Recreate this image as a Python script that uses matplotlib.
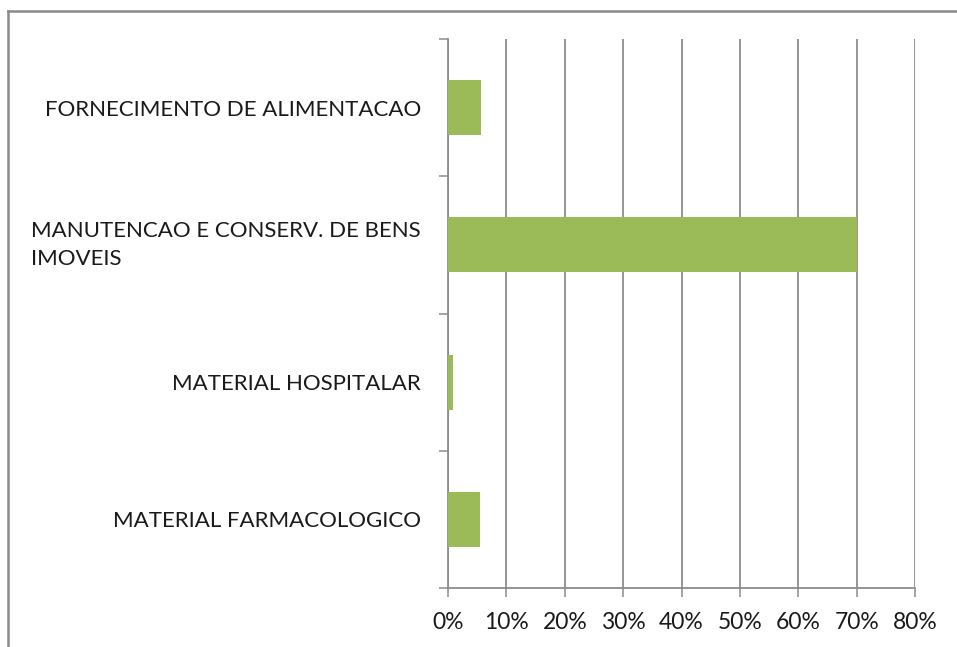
import matplotlib
matplotlib.use("Agg")
import matplotlib.pyplot as plt
import matplotlib.transforms as mtransforms
from matplotlib.lines import Line2D
from matplotlib.ticker import FixedLocator, NullFormatter

categories = [
    "FORNECIMENTO DE ALIMENTACAO",
    "MANUTENCAO E CONSERV. DE BENS\nIMOVEIS",
    "MATERIAL HOSPITALAR",
    "MATERIAL FARMACOLOGICO",
]
values = [5.6, 70.0, 0.9, 5.4]
x_ticks = [0, 10, 20, 30, 40, 50, 60, 70, 80]
x_labels = ["0%", "10%", "20%", "30%", "40%", "50%", "60%", "70%", "80%"]

plt.rcParams['font.family'] = ['Lato', 'DejaVu Sans']

W, H = 957, 647
fig = plt.figure(figsize=(W / 100, H / 100), dpi=100)
fig.patch.set_facecolor("white")

ax = fig.add_axes([448 / W, 59 / H, (915 - 448) / W, (588 - 39) / H])

n = len(categories)
ypos = list(range(n - 1, -1, -1))
ax.barh(ypos, values, height=0.4, color="#9BBB59", zorder=3)

ax.set_xlim(0, 80)
ax.set_ylim(-0.5, n - 0.5)

grid_c = "#8c8c8c"
txt_c = "#1a1a1a"
ax.set_xticks(x_ticks)
ax.set_xticklabels(x_labels, fontsize=16.5, color=txt_c)
ax.xaxis.grid(True, color=grid_c, linewidth=1.3, zorder=0)
ax.tick_params(axis="x", length=6.5, width=1.1, color=grid_c, pad=11)

ax.yaxis.set_major_locator(FixedLocator([i - 0.5 for i in range(n + 1)]))
ax.yaxis.set_major_formatter(NullFormatter())
ax.yaxis.set_minor_locator(FixedLocator(ypos))
labels = ax.set_yticklabels(categories, minor=True, fontsize=16, color=txt_c,
                            ha="right", multialignment="left", linespacing=1.5)
ax.tick_params(axis="y", which="major", length=6.5, width=1.1, color=grid_c)
ax.tick_params(axis="y", which="minor", length=0, pad=19.5)

# nudge multi-line label up slightly to centre it on its bar
for lab in labels:
    if "\n" in lab.get_text():
        lab.set_transform(lab.get_transform() +
                          mtransforms.ScaledTranslation(0, 6 / 100, fig.dpi_scale_trans))

for s in ["top", "right"]:
    ax.spines[s].set_visible(False)
for s in ["left", "bottom"]:
    ax.spines[s].set_color(grid_c)
    ax.spines[s].set_linewidth(1.3)

# outer chart border (top and left visible)
bx, by = 8 / W, 1 - 11 / H
fig.add_artist(Line2D([bx, 1.0], [by, by], transform=fig.transFigure,
                      color="#8a8a8a", linewidth=1.8))
fig.add_artist(Line2D([bx, bx], [0.0, by], transform=fig.transFigure,
                      color="#8a8a8a", linewidth=1.8))

fig.savefig("out.png", dpi=100)
